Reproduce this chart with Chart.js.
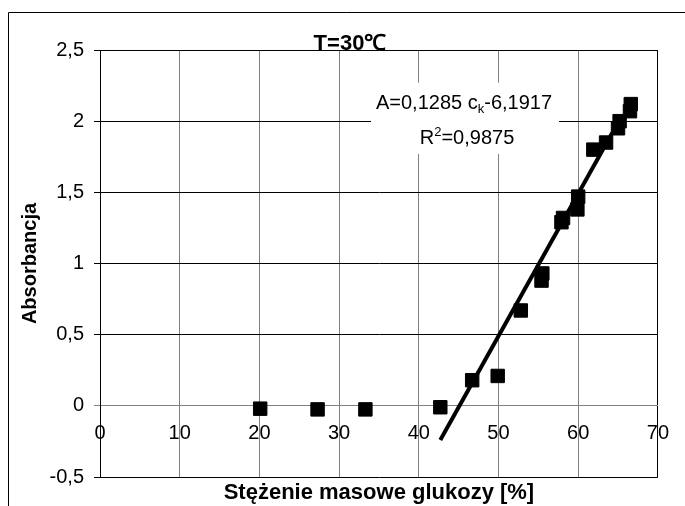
<!DOCTYPE html>
<html lang="pl">
<head>
<meta charset="utf-8">
<title>Absorbancja, T=30℃</title>
<script src="https://cdn.jsdelivr.net/npm/chart.js@4.4.1/dist/chart.umd.min.js"></script>
<style>
  html, body { margin: 0; padding: 0; background: #fff; }
  canvas { display: block; }
</style>
</head>
<body>
<canvas id="wykres" width="685" height="506"></canvas>
<script>
// Punkty pomiarowe (stężenie w %, absorbancja)
const stezenie = [20.1, 27.3, 33.3, 42.7, 46.7, 49.9, 52.8, 55.4, 55.5, 57.9, 58.1, 59.9, 60.0, 61.9, 63.5, 65.0, 65.2, 66.5, 66.6];
const absorbancja = [-0.02, -0.025, -0.025, -0.01, 0.18, 0.21, 0.67, 0.88, 0.93, 1.29, 1.32, 1.38, 1.47, 1.80, 1.85, 1.95, 2.00, 2.07, 2.12];

// Linia trendu - początek i koniec odcinka
const trendX = [42.7, 64.3];
const trendY = [-0.24, 1.92];

// Podziałki osi
const xTicks = [0, 10, 20, 30, 40, 50, 60, 70];
const yTicks = [-0.5, 0, 0.5, 1, 1.5, 2, 2.5];

// Teksty
const tytul = 'T=30℃';
const tytulX = 'Stężenie masowe glukozy [%]';
const tytulY = 'Absorbancja';
const rownanie = ['A=0,1285 c', 'k', '-6,1917'];
const wspR2 = ['R', '2', '=0,9875'];

const FONT = '"Liberation Sans", Arial, sans-serif';
Chart.defaults.color = '#000';
Chart.defaults.font.family = FONT;

const fmt = v => String(v).replace('.', ',');

// Ramka, tytuł i pole z równaniem
const dodatki = {
    id: 'dodatki',
    beforeDraw(chart) {
        const ctx = chart.ctx;
        ctx.save();
        ctx.strokeStyle = '#000';
        ctx.lineWidth = 1;
        ctx.beginPath();
        ctx.moveTo(8.5, chart.height);
        ctx.lineTo(8.5, 12.5);
        ctx.lineTo(chart.width, 12.5);
        ctx.stroke();
        ctx.restore();
    },
    afterDatasetsDraw(chart) {
        const ctx = chart.ctx;
        const xs = chart.scales.x, ys = chart.scales.y;
        const left = xs.getPixelForValue(34), right = xs.getPixelForValue(57.6);
        const top = ys.getPixelForValue(2.27), bottom = ys.getPixelForValue(1.77);
        ctx.save();
        ctx.fillStyle = '#fff';
        ctx.fillRect(left, top, right - left, bottom - top);
        ctx.fillStyle = '#000';
        ctx.textBaseline = 'alphabetic';
        ctx.textAlign = 'left';
        const cx = (left + right) / 2 - 1;

        // pierwsza linia z indeksem dolnym
        const big = '20px ' + FONT, small = '13px ' + FONT;
        ctx.font = big;
        const w1 = ctx.measureText(rownanie[0]).width;
        const w3 = ctx.measureText(rownanie[2]).width;
        ctx.font = small;
        const w2 = ctx.measureText(rownanie[1]).width;
        let x = cx - (w1 + w2 + w3) / 2;
        const y1 = top + 26;
        ctx.font = big; ctx.fillText(rownanie[0], x, y1); x += w1;
        ctx.font = small; ctx.fillText(rownanie[1], x, y1 + 4); x += w2;
        ctx.font = big; ctx.fillText(rownanie[2], x, y1);

        // druga linia z indeksem górnym
        ctx.font = big;
        const r1 = ctx.measureText(wspR2[0]).width;
        const r3 = ctx.measureText(wspR2[2]).width;
        ctx.font = small;
        const r2 = ctx.measureText(wspR2[1]).width;
        x = cx + 3 - (r1 + r2 + r3) / 2;
        const y2 = top + 61;
        ctx.font = big; ctx.fillText(wspR2[0], x, y2); x += r1;
        ctx.font = small; ctx.fillText(wspR2[1], x, y2 - 8); x += r2;
        ctx.font = big; ctx.fillText(wspR2[2], x, y2);
        ctx.restore();
    },
    afterDraw(chart) {
        const ctx = chart.ctx;
        ctx.save();
        ctx.font = 'bold 22px ' + FONT;
        ctx.fillStyle = '#000';
        ctx.textAlign = 'center';
        ctx.textBaseline = 'alphabetic';
        ctx.fillText(tytul, 350, chart.chartArea.top);
        ctx.restore();
    }
};

const ctx = document.getElementById('wykres').getContext('2d');

const wykres = new Chart(ctx, {
    type: 'scatter',
    data: {
        datasets: [{
            label: 'trend',
            data: trendX.map((v, i) => ({ x: v, y: trendY[i] })),
            showLine: true,
            borderColor: '#000',
            borderWidth: 4,
            pointRadius: 0
        }, {
            label: 'pomiary',
            data: stezenie.map((v, i) => ({ x: v, y: absorbancja[i] })),
            pointStyle: 'rect',
            pointRadius: 9.5,
            backgroundColor: '#000',
            borderColor: '#000',
            borderWidth: 1
        }]
    },
    options: {
        responsive: false,
        animation: false,
        layout: { padding: { top: 50, right: 25, bottom: 0, left: 0 } },
        plugins: {
            legend: { display: false },
            tooltip: { enabled: false }
        },
        scales: {
            x: {
                type: 'linear',
                min: 0,
                max: 70,
                position: { y: 0 },
                afterFit: s => { s.height = 0; },
                afterBuildTicks: s => { s.ticks = xTicks.map(v => ({ value: v })); },
                grid: {
                    color: c => c.tick && c.tick.value === 70 ? '#000' : '#808080',
                    drawTicks: false
                },
                border: { color: '#808080' },
                ticks: { padding: 16, font: { size: 20 }, maxRotation: 0 }
            },
            xTytul: {
                type: 'linear',
                axis: 'x',
                position: 'bottom',
                min: 0,
                max: 70,
                afterFit: s => { s.height = 29; },
                grid: { display: false },
                border: { display: false },
                ticks: { display: false },
                title: {
                    display: true,
                    text: tytulX,
                    font: { size: 22, weight: 'bold' },
                    padding: { top: 0, bottom: 0 }
                }
            },
            y: {
                type: 'linear',
                min: -0.5,
                max: 2.5,
                afterFit: s => { s.width = 100; },
                afterBuildTicks: s => { s.ticks = yTicks.map(v => ({ value: v })); },
                grid: {
                    color: c => c.tick && c.tick.value === 0 ? '#808080' : '#000',
                    tickLength: 6
                },
                border: { color: '#000' },
                ticks: { padding: 10, font: { size: 20 }, callback: v => fmt(v) },
                title: {
                    display: true,
                    text: tytulY,
                    font: { size: 20, weight: 'bold' },
                    padding: { top: 18, bottom: 0 }
                }
            }
        }
    },
    plugins: [dodatki]
});
</script>
</body>
</html>
